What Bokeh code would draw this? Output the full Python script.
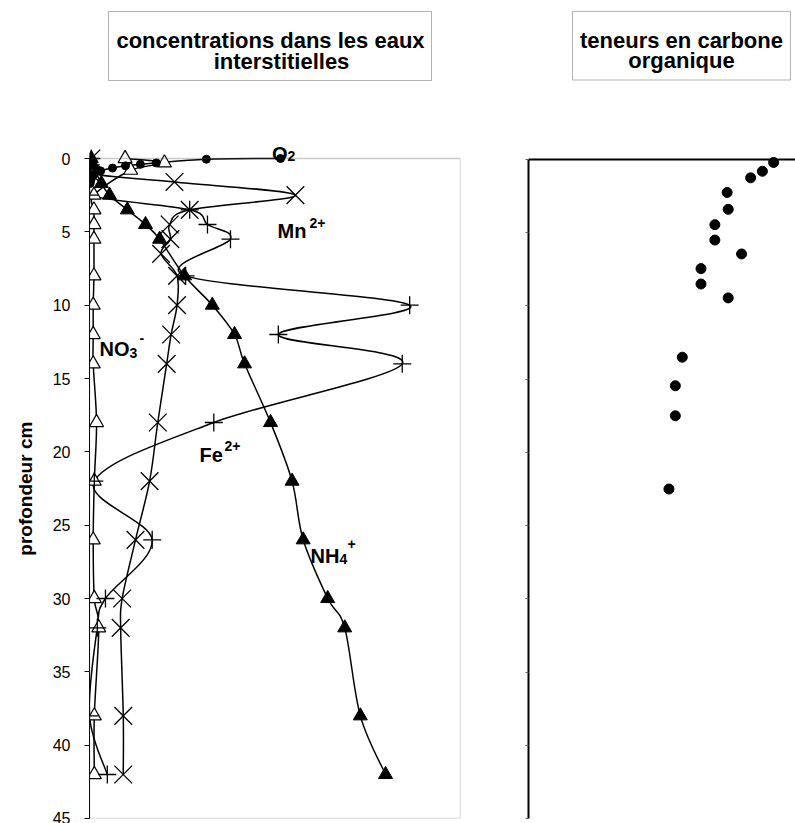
import numpy as np
from bokeh.plotting import figure
from bokeh.models import Range1d, FixedTicker, Label, BoxAnnotation, Span, ColumnDataSource
from bokeh.layouts import row
from bokeh.embed import file_html
from bokeh.resources import INLINE

# ---- pore-water profiles (depth in cm, concentration in arbitrary units) ----
o2_depth = [0.0, 0.05, 0.3, 0.4, 0.5, 0.65, 0.85, 1.1, 1.3, 1.5, 1.7]
o2_conc = [51.5, 31.5, 18.0, 13.7, 9.7, 6.2, 3.0, 1.1, 0.6, 0.3, 0.2]

nh4_depth = [0.0, 0.5, 1.7, 2.5, 3.5, 4.5, 5.5, 8, 10, 12, 14, 18, 22, 26, 30, 32, 38, 42]
nh4_conc = [0.5, 1.0, 3.2, 5.4, 10.2, 15.1, 18.9, 25.6, 33.1, 39.1, 41.8, 48.8, 54.6, 57.6,
            64.2, 68.8, 73.0, 79.8]

no3_depth = [0.0, 0.3, 0.8, 2.5, 3.5, 4.5, 5.5, 8, 10, 12, 14, 18, 22, 26, 30, 32, 38, 42]
no3_conc = [9.6, 20.2, 11.1, 1.2, 1.2, 1.2, 1.2, 1.2, 1.0, 1.0, 1.0, 1.9, 1.3, 1.0, 1.3, 2.5,
            1.3, 1.3]

mn_depth = [0.0, 1.0, 1.6, 2.5, 3.5, 4.5, 5.5, 6.5, 8, 10, 12, 14, 18, 22, 26, 30, 32, 38, 42]
mn_conc = [0.5, 0.3, 22.9, 55.5, 27.0, 21.6, 21.8, 19.3, 23.6, 23.6, 22.0, 20.8, 18.4, 16.2,
           12.4, 8.8, 8.4, 9.1, 9.1]

fe_depth = [0.0, 1.0, 2.5, 3.5, 4.5, 5.5, 8, 10, 12, 14, 18, 22, 26, 30, 32, 38, 42]
fe_conc = [0.5, 0.3, 0.0, 27.0, 31.8, 38.0, 25.9, 86.3, 50.9, 84.3, 33.5, 1.3, 16.9, 4.3, 2.1,
           0.0, 4.8]

# ---- organic carbon content ----
corg_depth = [0.2, 0.8, 1.25, 2.25, 3.4, 4.45, 5.5, 6.45, 7.45, 8.5, 9.45, 13.5, 15.45, 17.5, 22.5]
corg_value = [4.59, 4.38, 4.16, 3.72, 3.74, 3.49, 3.49, 3.99, 3.23, 3.23, 3.74, 2.88, 2.75,
              2.75, 2.63]

depth_ticks = [0, 5, 10, 15, 20, 25, 30, 35, 40, 45]

FONT = "Liberation Sans"
W, H = 795, 823

# plot-area geometry (pixels in the page); the frames reach up to the page top so
# the heading boxes and the O2 name can sit above the depth-0 line
L_X0, L_X1, L_Y0, L_Y1 = 89, 460, 158, 818
R_X0, R_X1, R_Y0, R_Y1 = 528, 795, 160, 823
L_W = 495


def lx(px):
    return (px - L_X0) / (L_X1 - L_X0) * 100.0


def ly(py):
    return (py - L_Y0) / (L_Y1 - L_Y0) * 45.0


def rx(px):
    return (px - R_X0) / (R_X1 - R_X0) * 5.0


def ry(py):
    return (py - R_Y0) / (R_Y1 - R_Y0) * 45.0


def smooth_segments(xs, ys):
    """Cubic Bezier pieces through the points (Catmull-Rom style smoothing)."""
    x = np.asarray(xs, float)
    y = np.asarray(ys, float)
    n = len(x)
    xp = np.concatenate([[x[0]], x, [x[-1]]])
    yp = np.concatenate([[y[0]], y, [y[-1]]])
    return dict(
        x0=x[:-1], y0=y[:-1], x1=x[1:], y1=y[1:],
        cx0=x[:-1] + (xp[2:n + 1] - xp[0:n - 1]) / 6.0,
        cy0=y[:-1] + (yp[2:n + 1] - yp[0:n - 1]) / 6.0,
        cx1=x[1:] - (xp[3:n + 2] - xp[1:n]) / 6.0,
        cy1=y[1:] - (yp[3:n + 2] - yp[1:n]) / 6.0,
    )


def add_text(p, text, x, y, size, bold=True, align="left", baseline="alphabetic"):
    p.add_layout(Label(x=x, y=y, text=text, text_font=FONT, text_font_size=f"{size}px",
                       text_font_style="bold" if bold else "normal", text_color="black",
                       text_align=align, text_baseline=baseline))


# ================= left panel: pore-water concentrations =================
p1 = figure(width=L_W, height=H, x_range=Range1d(0, 100), y_range=Range1d(45, ly(0)),
            output_backend="svg", toolbar_location=None, x_axis_location=None,
            min_border_left=L_X0, min_border_right=L_W - L_X1,
            min_border_top=0, min_border_bottom=H - L_Y1)
p1.grid.visible = False
p1.outline_line_color = None
p1.background_fill_color = "white"
p1.border_fill_color = "white"

ya = p1.yaxis[0]
ya.bounds = (0, 45)
ya.ticker = FixedTicker(ticks=depth_ticks)
# the frame also holds the heading area, so the title is padded at its far end
# (non-breaking spaces) to centre it on the 0-45 cm depth span
ya.axis_label = "profondeur cm" + "\u00a0" * 30
ya.axis_label_text_font = FONT
ya.axis_label_text_font_size = "19px"
ya.axis_label_text_font_style = "bold"
ya.axis_label_text_color = "black"
ya.axis_label_standoff = 14
ya.major_label_text_font = FONT
ya.major_label_text_font_size = "16px"
ya.major_label_text_color = "black"
ya.major_label_standoff = 14
ya.major_tick_out = 5
ya.major_tick_in = 0
ya.minor_tick_out = 0
ya.minor_tick_in = 0
ya.axis_line_color = "black"
ya.major_tick_line_color = "black"

# plot-area border
p1.add_layout(BoxAnnotation(left=0, right=100, top=0, bottom=45, fill_alpha=0,
                            line_color="#505050", line_width=1.5))

profiles = [
    (o2_conc, o2_depth),
    (nh4_conc, nh4_depth),
    (no3_conc, no3_depth),
    (mn_conc, mn_depth),
    (fe_conc, fe_depth),
]
for xs, ys in profiles:
    p1.bezier(source=ColumnDataSource(smooth_segments(xs, ys)),
              x0="x0", y0="y0", x1="x1", y1="y1", cx0="cx0", cy0="cy0", cx1="cx1", cy1="cy1",
              line_color="black", line_width=1.5)

p1.scatter(no3_conc, no3_depth, marker="triangle", size=14, fill_color="white",
           line_color="black", line_width=1.2)
p1.scatter(nh4_conc, nh4_depth, marker="triangle", size=14, fill_color="black",
           line_color="black")
p1.scatter(mn_conc, mn_depth, marker="x", size=25, line_color="black", line_width=1.3)
p1.scatter(fe_conc, fe_depth, marker="cross", size=18, line_color="black", line_width=1.3)
p1.scatter(o2_conc, o2_depth, marker="circle", size=8, fill_color="black", line_color="black")

# species names
add_text(p1, "O", lx(271.5), ly(153), 20)
add_text(p1, "2", lx(287), ly(155.5), 14)
add_text(p1, "Mn", lx(277), ly(230), 20)
add_text(p1, "2+", lx(309), ly(222), 14)
add_text(p1, "NO", lx(99), ly(348), 20)
add_text(p1, "3", lx(129), ly(352), 14)
add_text(p1, "-", lx(139), ly(337), 14)
add_text(p1, "Fe", lx(199), ly(454), 20)
add_text(p1, "2+", lx(224), ly(445), 14)
add_text(p1, "NH", lx(310), ly(555), 20)
add_text(p1, "4", lx(339), ly(558), 14)
add_text(p1, "+", lx(347), ly(543), 14)

# heading box
p1.add_layout(BoxAnnotation(left=lx(108), right=lx(431), top=ly(11), bottom=ly(80),
                            fill_alpha=0, line_color="black", line_width=1))
add_text(p1, "concentrations dans les eaux", lx(270), ly(40), 22, align="center")
add_text(p1, "interstitielles", lx(281), ly(61), 22, align="center")

# ================= right panel: organic carbon =================
p2 = figure(width=W - L_W, height=H, x_range=Range1d(0, 5), y_range=Range1d(45, ry(0)),
            output_backend="svg", toolbar_location=None, x_axis_location=None,
            min_border_left=R_X0 - L_W, min_border_right=0,
            min_border_top=0, min_border_bottom=H - R_Y1)
p2.grid.visible = False
p2.outline_line_color = None
p2.background_fill_color = "white"
p2.border_fill_color = "white"

yb = p2.yaxis[0]
yb.bounds = (0, 45)
yb.ticker = FixedTicker(ticks=depth_ticks)
yb.major_label_overrides = {t: "" for t in depth_ticks}
yb.major_tick_out = 3
yb.major_tick_in = 0
yb.minor_tick_out = 0
yb.minor_tick_in = 0
yb.axis_line_color = "black"
yb.axis_line_width = 2
yb.major_tick_line_color = "#606060"
p2.add_layout(Span(location=0, dimension="width", line_color="black", line_width=2))

p2.scatter(corg_value, corg_depth, marker="circle", size=10, fill_color="black",
           line_color="black")

p2.add_layout(BoxAnnotation(left=rx(572), right=rx(790), top=ry(11), bottom=ry(80),
                            fill_alpha=0, line_color="black", line_width=1))
add_text(p2, "teneurs en carbone", rx(681), ry(40), 22, align="center")
add_text(p2, "organique", rx(681), ry(60), 22, align="center")

layout = row(p1, p2)
open("out.html", "w").write(file_html(layout, INLINE))
